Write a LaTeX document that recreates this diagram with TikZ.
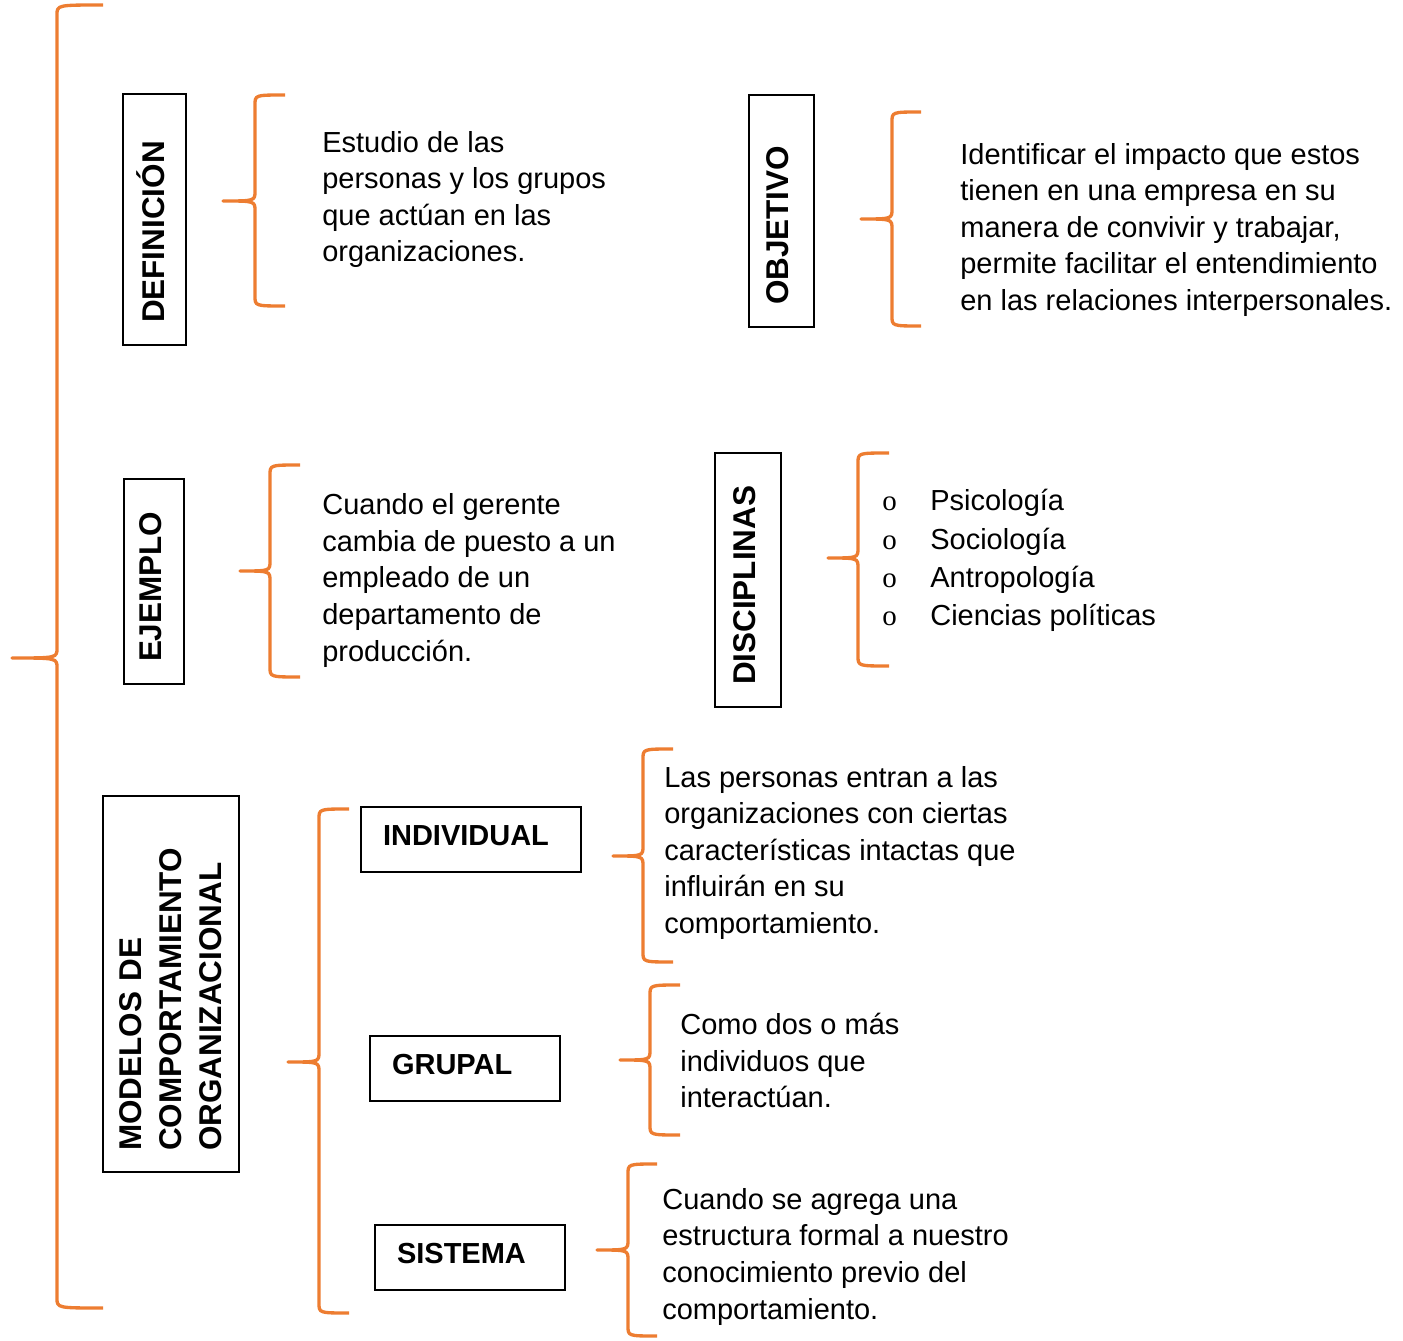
\documentclass[tikz,border=0pt]{standalone}
\usepackage{fontspec}
\setmainfont{Liberation Sans}
\newfontfamily\vinieta{Liberation Serif}
\definecolor{naranja}{RGB}{237,125,49}
\tikzset{
  llave/.style={draw=naranja, line width=1.9pt, line join=round},
  caja/.style={draw, line width=1.1pt, inner xsep=0.44cm, inner ysep=0pt, align=left},
  hcaja/.style={caja, font=\bfseries\fontsize{16.5}{20}\selectfont, text depth=0.16cm},
  vcaja/.style={caja, rotate=90, font=\bfseries\fontsize{17.9}{22.8}\selectfont},
  cuerpo/.style={anchor=north west, inner sep=0pt, align=left, font=\fontsize{16.5}{20.8}\selectfont},
}
% tip x, vertical x, end x, top y, middle y, bottom y
\newcommand{\llave}[6]{\draw[llave] (#3,#4) .. controls (#2,#4) .. (#2,#4+10) -- (#2,#5-10)
  .. controls (#2,#5) .. (#1,#5) .. controls (#2,#5) .. (#2,#5+10) -- (#2,#6-10)
  .. controls (#2,#6) .. (#3,#6);}
\begin{document}
\begin{tikzpicture}[x=0.02cm, y=-0.02cm]
\useasboundingbox (0,0) rectangle (1403,1341);
% titulos
\node[vcaja, text depth=0.14cm, minimum width=5.02cm, minimum height=1.26cm, text width=4.14cm] (definicion) at (154.5,219.5) {DEFINICIÓN};
\node[vcaja, text depth=0.14cm, minimum width=4.64cm, minimum height=1.30cm, text width=3.76cm] (objetivo) at (781.5,211) {OBJETIVO};
\node[vcaja, text depth=0.14cm, minimum width=4.10cm, minimum height=1.20cm, text width=3.22cm] (ejemplo) at (154,581.5) {EJEMPLO};
\node[vcaja, text depth=0.14cm, minimum width=5.08cm, minimum height=1.32cm, text width=4.20cm] (disciplinas) at (748,580) {DISCIPLINAS};
\node[vcaja, minimum width=7.52cm, minimum height=2.72cm, text width=6.68cm, inner xsep=0.42cm] (modelos) at (171,984) {MODELOS DE\\COMPORTAMIENTO\\ORGANIZACIONAL};
\node[hcaja, minimum width=4.40cm, minimum height=1.30cm, text width=3.52cm] (individual) at (471,839.5) {INDIVIDUAL};
\node[hcaja, minimum width=3.80cm, minimum height=1.30cm, text width=2.92cm] (grupal) at (465,1068.5) {GRUPAL};
\node[hcaja, minimum width=3.80cm, minimum height=1.30cm, text width=2.92cm] (sistema) at (470,1257.5) {SISTEMA};
% textos
\node[cuerpo] (txtdefinicion) at (322,131) {Estudio de las\\personas y los grupos\\que actúan en las\\organizaciones.};
\node[cuerpo] (txtobjetivo) at (960,143) {Identificar el impacto que estos\\tienen en una empresa en su\\manera de convivir y trabajar,\\permite facilitar el entendimiento\\en las relaciones interpersonales.};
\node[cuerpo] (txtejemplo) at (322,493.5) {Cuando el gerente\\cambia de puesto a un\\empleado de un\\departamento de\\producción.};
\node[cuerpo, font=\fontsize{16.5}{21.8}\selectfont] (txtdisciplinas) at (882,489) {%
  \makebox[0.96cm][l]{\vinieta o}Psicología\\\makebox[0.96cm][l]{\vinieta o}Sociología\\%
  \makebox[0.96cm][l]{\vinieta o}Antropología\\\makebox[0.96cm][l]{\vinieta o}Ciencias políticas};
\node[cuerpo] (txtindividual) at (664,766) {Las personas entran a las\\organizaciones con ciertas\\características intactas que\\influirán en su\\comportamiento.};
\node[cuerpo] (txtgrupal) at (680,1013) {Como dos o más\\individuos que\\interactúan.};
\node[cuerpo] (txtsistema) at (662,1188) {Cuando se agrega una\\estructura formal a nuestro\\conocimiento previo del\\comportamiento.};
% llaves
\llave{12}{57}{103}{5}{658}{1308}
\llave{223}{255}{285}{95}{201}{306}
\llave{861}{892}{921}{112}{219}{326}
\llave{240}{270}{300}{465}{571}{677}
\llave{828}{858}{889}{453}{558}{666}
\llave{288}{319}{349}{809}{1062}{1313}
\llave{613}{643}{673}{749}{856}{962}
\llave{620}{650}{680}{985}{1060}{1135}
\llave{597}{628}{657}{1164}{1250}{1336}
\end{tikzpicture}
\end{document}
